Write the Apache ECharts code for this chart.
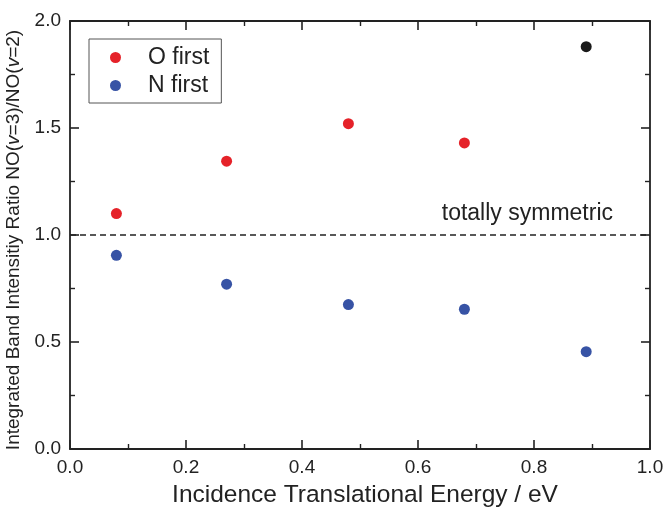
<!DOCTYPE html>
<html>
<head>
<meta charset="utf-8">
<script src="https://cdn.jsdelivr.net/npm/echarts@6/dist/echarts.min.js"></script>
<style>html,body{margin:0;padding:0;background:#fff}#c{width:663px;height:511px}</style>
</head>
<body>
<div id="c"></div>
<script>
const energies = [0.08, 0.27, 0.48, 0.68, 0.89];
const oFirst = [1.10, 1.345, 1.52, 1.43];
const nFirst = [0.905, 0.77, 0.675, 0.653, 0.455];
const otherX = [0.89];
const otherY = [1.88];
const refLevel = 1.0;
const xTicks = [0.0, 0.2, 0.4, 0.6, 0.8, 1.0];
const yTicks = [0.0, 0.5, 1.0, 1.5, 2.0];

const FONT = '"Liberation Sans", Arial, sans-serif';
const AX = '#222';
const chart = echarts.init(document.getElementById('c'), null, {renderer: 'canvas'});

function axisBase(show) {
  return {
    axisLine: {show: true, onZero: false, lineStyle: {color: AX, width: 1.8}},
    axisTick: {show: true, inside: true, length: 9, lineStyle: {color: AX, width: 1.6}},
    minorTick: {show: true, splitNumber: 2, length: 5, lineStyle: {color: AX, width: 1.4}},
    splitLine: {show: false},
    axisLabel: {show: show, color: AX, fontSize: 19, fontFamily: FONT, margin: 9,
      formatter: v => v.toFixed(1)}
  };
}

const option = {
  animation: false,
  backgroundColor: '#fff',
  grid: {left: 70, right: 13, top: 21, bottom: 62, outerBoundsMode: 'none', containLabel: false},
  legend: {
    data: ['O first', 'N first'],
    orient: 'vertical',
    left: 89, top: 39,
    padding: [7, 12, 6, 21],
    itemGap: 5,
    itemWidth: 11, itemHeight: 11,
    icon: 'circle',
    borderColor: '#555', borderWidth: 1,
    textStyle: {fontSize: 23, fontFamily: FONT, color: AX, lineHeight: 23, padding: [0, 0, 0, 22]}
  },
  xAxis: [
    Object.assign(axisBase(true), {
      type: 'value', min: xTicks[0], max: xTicks[xTicks.length - 1], interval: 0.2,
      name: 'Incidence Translational Energy / eV', nameLocation: 'middle', nameGap: 34,
      nameTextStyle: {fontSize: 24.5, fontFamily: FONT, color: AX, padding: [0, 0, 0, 10]}
    }),
    Object.assign(axisBase(false), {
      type: 'value', position: 'top', min: xTicks[0], max: xTicks[xTicks.length - 1], interval: 0.2
    })
  ],
  yAxis: [
    Object.assign(axisBase(true), {
      type: 'value', min: yTicks[0], max: yTicks[yTicks.length - 1], interval: 0.5,
      name: 'Integrated Band Intensitiy Ratio NO({i|v}=3)/NO({i|v}=2)',
      nameLocation: 'middle', nameGap: 44,
      nameTextStyle: {fontSize: 19, fontFamily: FONT, color: AX, padding: [0, 10, 0, 0],
        rich: {i: {fontSize: 19, fontFamily: FONT, fontStyle: 'italic', color: AX}}}
    }),
    Object.assign(axisBase(false), {
      type: 'value', position: 'right', min: yTicks[0], max: yTicks[yTicks.length - 1], interval: 0.5
    })
  ],
  series: [
    {
      name: 'O first', type: 'scatter', symbolSize: 11,
      itemStyle: {color: '#e52229', opacity: 1},
      data: oFirst.map((v, i) => [energies[i], v]),
      markLine: {
        silent: true, symbol: 'none',
        lineStyle: {type: [6, 4], color: AX, width: 1.5},
        label: {show: true, position: 'insideEndTop', formatter: 'totally symmetric',
          fontSize: 23, fontFamily: FONT, color: AX, distance: 10, padding: [0, 27, 0, 0]},
        data: [{yAxis: refLevel}]
      }
    },
    {
      name: 'N first', type: 'scatter', symbolSize: 11,
      itemStyle: {color: '#3753a5', opacity: 1},
      data: nFirst.map((v, i) => [energies[i], v])
    },
    {
      name: 'other', type: 'scatter', symbolSize: 11,
      itemStyle: {color: '#1a1a1a', opacity: 1},
      data: otherX.map((x, i) => [x, otherY[i]])
    }
  ]
};
chart.setOption(option);
</script>
</body>
</html>
